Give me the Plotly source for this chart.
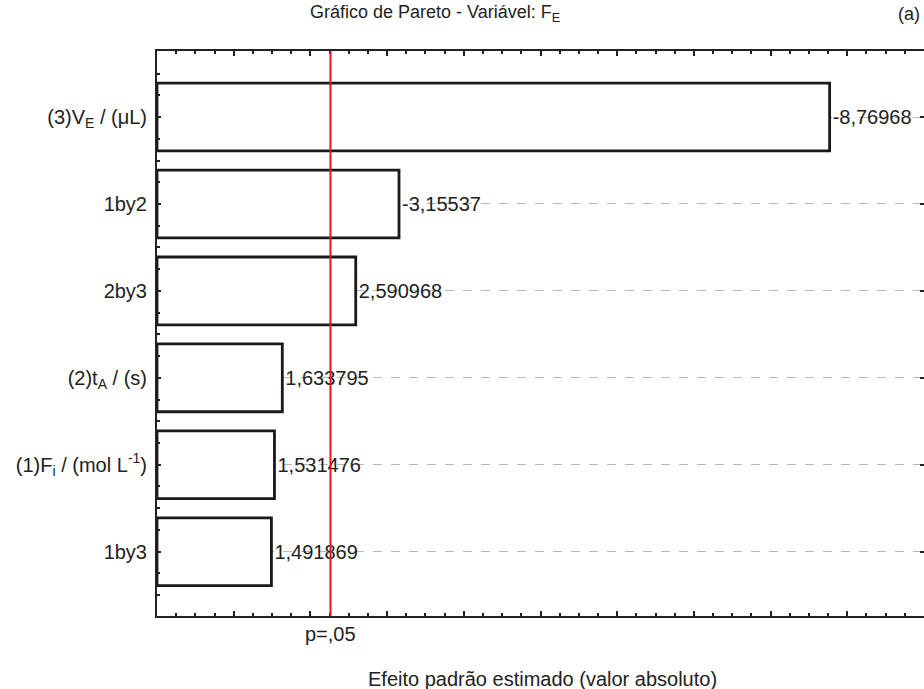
import plotly.graph_objects as go

# Data
categories = ["(3)V<sub>E</sub> / (μL)", "1by2", "2by3", "(2)t<sub>A</sub> / (s)",
              "(1)F<sub>i</sub> / (mol L<sup>-1</sup>)", "1by3"]
effects = [-8.76968, -3.15537, 2.590968, 1.633795, 1.531476, 1.491869]
effect_labels = ["-8,76968", "-3,15537", "2,590968", "1,633795", "1,531476", "1,491869"]
p_critical = 2.262
p_label = "p=,05"

positions = list(range(len(categories)))
abs_effects = [abs(v) for v in effects]

FONT = "Liberation Sans, Arial, sans-serif"
TXT = "#222222"
YRANGE = [5.74, -0.76]

fig = go.Figure()
fig.add_trace(go.Bar(
    x=abs_effects, y=positions, orientation="h", width=0.78,
    marker=dict(color="white", line=dict(color="#1a1a1a", width=2.8)),
    text=effect_labels, textposition="outside",
    textfont=dict(family=FONT, size=20, color=TXT),
    cliponaxis=False, showlegend=False, hoverinfo="skip",
))
# invisible helper trace so the right-hand tick axis is rendered
fig.add_trace(go.Scatter(x=[None], y=[None], yaxis="y2", mode="markers",
                         showlegend=False, hoverinfo="skip"))

fig.add_shape(type="line", x0=p_critical, x1=p_critical, y0=0, y1=1,
              xref="x", yref="paper", line=dict(color="#e8141c", width=2))

fig.update_layout(
    width=924, height=689,
    margin=dict(l=157, r=0, t=51, b=73),
    paper_bgcolor="white", plot_bgcolor="white",
    font=dict(family=FONT, size=20, color=TXT),
    bargap=0.2,
    xaxis=dict(range=[0, 10], showgrid=False, zeroline=False,
               showline=True, linecolor="#222222", linewidth=2, mirror="ticks",
               ticks="inside", ticklen=5, tickwidth=2, tickcolor="#222222", dtick=1, tick0=0,
               showticklabels=False,
               minor=dict(ticks="inside", ticklen=3, tickwidth=1.5, tickcolor="#222222", dtick=0.25, showgrid=False)),
    yaxis=dict(range=YRANGE, tickmode="array", tickvals=positions, ticktext=categories,
               showgrid=True, gridcolor="#b8b8b8", gridwidth=1, griddash="dash", zeroline=False,
               showline=True, linecolor="#222222", linewidth=2, mirror=False,
               ticks="inside", ticklen=4, tickwidth=2, tickcolor="#222222",
               tickfont=dict(family=FONT, size=20, color=TXT), ticklabelstandoff=4,
               minor=dict(ticks="inside", ticklen=3, tickwidth=1.5, tickcolor="#222222", dtick=0.25, tick0=0, showgrid=False)),
    yaxis2=dict(range=YRANGE, overlaying="y", side="right", tickmode="array", tickvals=positions,
                showticklabels=False, showgrid=False, zeroline=False, showline=False,
                ticks="inside", ticklen=4, tickwidth=2, tickcolor="#222222"),
    annotations=[
        dict(text="Gráfico de Pareto - Variável: F<sub>E</sub>", x=435, y=14, xref="paper", yref="paper",
             showarrow=False, font=dict(family=FONT, size=18, color=TXT)),
        dict(text="(a)", x=909, y=14, showarrow=False, font=dict(family=FONT, size=18, color=TXT)),
        dict(text=p_label, x=p_critical, xref="x", y=634, showarrow=False,
             font=dict(family=FONT, size=20, color=TXT)),
        dict(text="Efeito padrão estimado (valor absoluto)", x=542, y=679, showarrow=False,
             font=dict(family=FONT, size=20, color=TXT)),
    ],
)

# convert pixel-based annotation coordinates to paper coords
W, H = 924, 689
L, R, T, B = 157, 0, 51, 73
pw, ph = W - L - R, H - T - B
anns = []
for a in fig.layout.annotations:
    a = a.to_plotly_json()
    if a.get("xref") != "x":
        a["x"] = (a["x"] - L) / pw
        a["xref"] = "paper"
    a["y"] = 1 - (a["y"] - T) / ph
    a["yref"] = "paper"
    a["yanchor"] = "middle"
    a["xanchor"] = "center"
    anns.append(a)
fig.layout.annotations = anns

fig.write_html("out.html")
